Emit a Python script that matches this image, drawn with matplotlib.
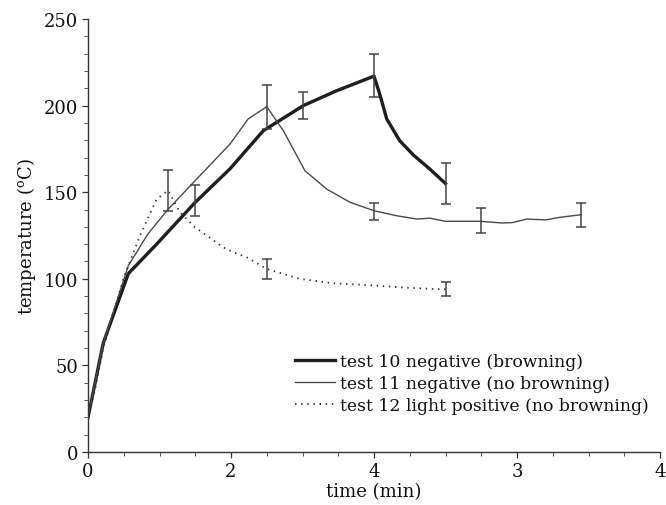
import matplotlib
matplotlib.use("Agg")
import matplotlib.pyplot as plt
from matplotlib.ticker import MultipleLocator, FixedLocator, FixedFormatter

plt.rcParams['font.family'] = ['DejaVu Serif']
plt.rcParams['mathtext.fontset'] = 'dejavuserif'

# ---- data (x in axis units, 0..4) ----
t10_x = [0, 0.107, 0.282, 0.48, 0.748, 0.993, 1.226, 1.506, 1.739, 2.0,
         2.04, 2.089, 2.18, 2.275, 2.39, 2.5]
t10_y = [20, 63, 103, 120, 144, 163.5, 185.5, 200, 208.6, 217,
         206.7, 192.3, 179.7, 171.5, 163.4, 155]

t11_x = [0, 0.107, 0.282, 0.42, 0.562, 0.76, 0.993, 1.12, 1.25, 1.366, 1.517,
         1.669, 1.832, 2.0, 2.159, 2.3, 2.39, 2.5, 2.74, 2.9, 2.97, 3.07,
         3.2, 3.3, 3.45]
t11_y = [20, 63, 107.6, 126, 140.3, 157.6, 177.8, 192.3, 199.4, 185.5, 162.4,
         151.8, 144.2, 139.3, 136.4, 134.5, 135, 133.2, 133.2, 132.2, 132.5,
         134.5, 134, 135.5, 137]

t12_x = [0, 0.049, 0.107, 0.247, 0.364, 0.48, 0.56, 0.643, 0.748, 0.946,
         1.016, 1.11, 1.25, 1.48, 1.716, 1.95, 2.18, 2.415, 2.5]
t12_y = [20, 36, 60, 100, 125, 146, 151, 138.4, 129.7, 118.2,
         115.3, 112.4, 105.7, 100, 97.4, 96.4, 95.1, 94.1, 94]

# error bars: x, centre, half-width
eb_x = [0.56, 0.748, 1.25, 1.5, 2.0, 2.5, 1.25, 2.5, 2.0, 2.748, 3.45]
eb_y = [151, 145, 199, 200, 217.3, 155, 105.7, 94, 139, 133.5, 137]
eb_e = [12, 9, 12.7, 8, 12.5, 12, 5.8, 4.2, 5, 7.2, 7]

xtick_pos = [0, 1, 2, 3, 4]
xtick_labels = ['0', '2', '4', '3', '4']
ytick_pos = [0, 50, 100, 150, 200, 250]

labels = ['test 10 negative (browning)',
          'test 11 negative (no browning)',
          'test 12 light positive (no browning)']

fig = plt.figure(figsize=(6.66, 5.06), dpi=100)
ax = fig.add_axes([88/666, 1-453/506, 572/666, 433/506])

l1, = ax.plot(t10_x, t10_y, color='#1e1e1e', lw=2.4, solid_joinstyle='round')
l2, = ax.plot(t11_x, t11_y, color='#4a4a4a', lw=1.0)
l3, = ax.plot(t12_x, t12_y, color='#333333', lw=1.3, linestyle=(0, (0.8, 2.6)))

ax.errorbar(eb_x, eb_y, yerr=eb_e, fmt='none', ecolor='#444444',
            elinewidth=1.1, capsize=3.6, capthick=1.1)

ax.set_xlim(0, 4)
ax.set_ylim(0, 250)
ax.xaxis.set_major_locator(FixedLocator(xtick_pos))
ax.xaxis.set_major_formatter(FixedFormatter(xtick_labels))
ax.xaxis.set_minor_locator(MultipleLocator(0.25))
ax.yaxis.set_major_locator(FixedLocator(ytick_pos))
ax.yaxis.set_minor_locator(MultipleLocator(10))

for s in ['top', 'right']:
    ax.spines[s].set_visible(False)
for s in ['left', 'bottom']:
    ax.spines[s].set_color('#333333')
    ax.spines[s].set_linewidth(1.0)

ax.tick_params(which='major', direction='out', length=4, width=0.9,
               colors='#333333', labelsize=13, labelcolor='#111111', pad=3)
ax.tick_params(which='minor', direction='out', length=3, width=0.7, colors='#555555')

ax.set_xlabel('time (min)', fontsize=13, color='#111111', labelpad=2)
ax.set_ylabel('temperature ($^{\\mathrm{o}}$C)', fontsize=13, color='#111111', labelpad=4)

leg = ax.legend([l1, l2, l3], labels, loc='upper left',
                bbox_to_anchor=((295-88)/572, (453-354)/433),
                frameon=False, fontsize=12.4, handlelength=2.3,
                handletextpad=0.3, labelspacing=0.3, borderpad=0,
                borderaxespad=0)
for t in leg.get_texts():
    t.set_color('#111111')

fig.savefig('out.png', dpi=100)
